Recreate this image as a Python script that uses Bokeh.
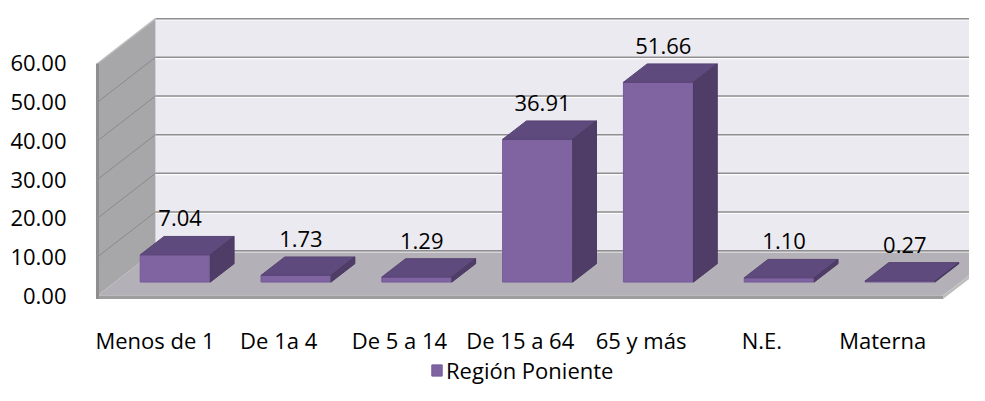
import numpy as np
from bokeh.plotting import figure
from bokeh.models import Range1d, FixedTicker, Legend, LegendItem, NumeralTickFormatter
from bokeh.embed import file_html
from bokeh.resources import INLINE
from bokeh.core.properties import value

# ---------------- data ----------------
categories = ["Menos  de 1", "De 1a 4", "De 5 a 14", "De 15 a 64", "65 y más", "N.E.", "Materna"]
values = [7.04, 1.73, 1.29, 36.91, 51.66, 1.10, 0.27]
value_labels = ["7.04", "1.73", "1.29", "36.91", "51.66", "1.10", "0.27"]
y_ticks = [0, 10, 20, 30, 40, 50, 60]
series_name = "Región Poniente"

# ---------------- style ----------------
FONT = "Open Sans"
FS = "22px"
DX, DY = 0.48, 11.6      # depth of the 3-D box (x units, value units)
F1, F2 = 0.30, 0.71      # bar front / back depth fractions
HW = 0.29                # half bar width
LIP = 0.9                # floor thickness (value units)

BACK = "#ECEAF1"
SIDE = "#A7A7A9"
FLOOR = "#B3B1B7"
GRID = "#8F8F8F"
BAR_FRONT = "#8064A2"
BAR_TOP = "#5F4A7D"
BAR_SIDE = "#4F3D68"

n = len(categories)
ymax = y_ticks[-1]
L, R = -0.5, n - 0.5

p = figure(width=969, height=385, output_backend="svg", toolbar_location=None,
           x_range=Range1d(-0.533, 6.719), y_range=Range1d(-23.27, 76.29),
           x_axis_location=None, y_axis_location="left",
           min_border_left=93, min_border_right=0, min_border_top=0, min_border_bottom=0)
p.outline_line_color = None
p.grid.visible = False
p.background_fill_color = "white"
p.border_fill_color = "white"

# ---------------- 3-D box ----------------
# back wall
p.patch([L + DX, R + DX, R + DX, L + DX], [DY, DY, ymax + DY, ymax + DY],
        fill_color=BACK, line_color=None)
# side wall
p.patch([L, L + DX, L + DX, L], [0, DY, ymax + DY, ymax],
        fill_color=SIDE, line_color=None)
# floor
p.patch([L, R, R + DX, L + DX], [0, 0, DY, DY], fill_color=FLOOR, line_color=None)
# floor thickness
p.patch([L, R, R, L], [0, 0, -LIP, -LIP], fill_color="#9E9E9E", line_color=None)
p.patch([R, R + DX, R + DX, R], [0, DY, DY - LIP, -LIP], fill_color="#BDBDBD", line_color=None)

# back-wall gridlines (with light highlight)
p.multi_line([[L + DX, R + DX] for t in y_ticks], [[t + DY - 0.35, t + DY - 0.35] for t in y_ticks],
             line_color="white", line_width=1.2, line_alpha=0.9)
p.multi_line([[L + DX, R + DX] for t in y_ticks], [[t + DY, t + DY] for t in y_ticks],
             line_color=GRID, line_width=1.5)
# side-wall gridlines
p.multi_line([[L, L + DX] for t in y_ticks[1:-1]], [[t, t + DY] for t in y_ticks[1:-1]],
             line_color="#8A8A8A", line_width=1)
p.line([L, L + DX], [ymax, ymax + DY], line_color="#BEBEBE", line_width=1.5)
# side-wall front edge
p.line([L, L], [-LIP, ymax], line_color="#8E8E8E", line_width=3)

# ---------------- bars ----------------
idx = np.arange(n)
v = np.array(values)
xl = idx - HW
xr = idx + HW

front = p.quad(left=xl + F1 * DX, right=xr + F1 * DX, bottom=F1 * DY, top=v + F1 * DY,
               fill_color=BAR_FRONT, line_color="#76599A", line_width=1)
p.patches([[a + F1 * DX, b + F1 * DX, b + F2 * DX, a + F2 * DX] for a, b in zip(xl, xr)],
          [[h + F1 * DY, h + F1 * DY, h + F2 * DY, h + F2 * DY] for h in v],
          fill_color=BAR_TOP, line_color="#584473", line_width=1)
p.patches([[b + F1 * DX, b + F2 * DX, b + F2 * DX, b + F1 * DX] for b in xr],
          [[F1 * DY, F2 * DY, h + F2 * DY, h + F1 * DY] for h in v],
          fill_color=BAR_SIDE, line_color="#4A3A62", line_width=1)

# data labels
p.text(x=idx + F1 * DX + 0.04, y=v + F2 * DY, text=value_labels,
       text_font=value(FONT), text_font_size=FS, text_color="black",
       text_align="center", text_baseline="alphabetic", y_offset=-18)

# category labels (front edge of the floor)
p.text(x=idx, y=[y_ticks[0]] * n, text=categories,
       text_font=value(FONT), text_font_size=FS, text_color="black",
       text_align="center", text_baseline="alphabetic", y_offset=44)

# ---------------- axis ----------------
ax = p.yaxis[0]
ax.ticker = FixedTicker(ticks=y_ticks)
ax.formatter = NumeralTickFormatter(format="0.00")
ax.axis_line_color = None
ax.major_tick_line_color = None
ax.minor_tick_line_color = None
ax.major_label_standoff = 21
ax.major_label_text_font = FONT
ax.major_label_text_font_size = FS
ax.major_label_text_color = "black"

# ---------------- legend ----------------
legend = Legend(items=[LegendItem(label=series_name, renderers=[front])],
                location=(337, 0), orientation="horizontal",
                glyph_width=13, glyph_height=14, label_standoff=3,
                padding=0, margin=0, spacing=0,
                border_line_color=None, background_fill_alpha=0,
                label_text_font=FONT, label_text_font_size=FS, label_text_color="black")
p.add_layout(legend, "center")

open("out.html", "w").write(file_html(p, INLINE))
